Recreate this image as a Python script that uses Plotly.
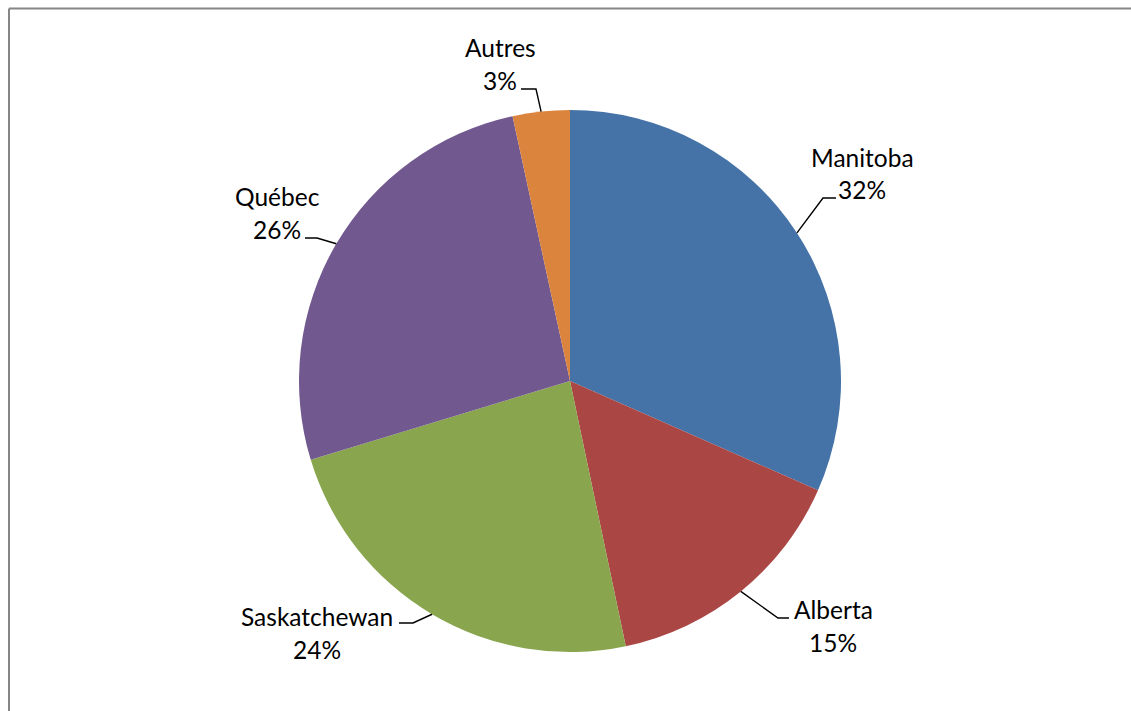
import math
import plotly.graph_objects as go

# ---- data ----
provinces = ["Manitoba", "Alberta", "Saskatchewan", "Québec", "Autres"]
shares = [31.6, 15.1, 23.6, 26.3, 3.4]
colors = ["#4572A7", "#AA4643", "#89A54E", "#71588F", "#DB843D"]

# ---- layout constants (pixels) ----
W, H = 1131, 711
CX, CY, R = 570, 381, 271
FONT = "Lato"
FS = 24.5

# label layout: center x, first/second line y, leader end (x,y), elbow x
label_layout = {
    "Manitoba":     dict(cx=862, y1=157, y2=190, ex=836, ey=198, bx=823),
    "Alberta":      dict(cx=833, y1=609, y2=642, ex=789, ey=618, bx=778),
    "Saskatchewan": dict(cx=317, y1=616, y2=649, ex=399, ey=623, bx=413),
    "Québec":       dict(cx=277, y1=196, y2=229, ex=305, ey=238, bx=317),
    "Autres":       dict(cx=500, y1=47,  y2=81,  ex=521, ey=89,  bx=536),
}

def pxx(x):
    return x / W

def pyy(y):
    return 1 - y / H

fig = go.Figure(go.Pie(
    labels=provinces,
    values=shares,
    sort=False,
    direction="clockwise",
    rotation=0,
    marker=dict(colors=colors, line=dict(width=0)),
    textinfo="none",
    hoverinfo="label+percent",
    showlegend=False,
    domain=dict(x=[pxx(CX - R), pxx(CX + R)], y=[pyy(CY + R), pyy(CY - R)]),
))

total = sum(shares)
annotations = []
shapes = []
cum = 0.0
for name, v in zip(provinces, shares):
    mid = (cum + v / 2) / total * 2 * math.pi
    cum += v
    edge_x = CX + R * math.sin(mid)
    edge_y = CY - R * math.cos(mid)
    L = label_layout[name]
    pct = f"{round(v / total * 100)}%"
    annotations.append(dict(x=pxx(L["cx"]), y=pyy(L["y1"]), xref="paper", yref="paper",
                            text=name, showarrow=False, xanchor="center", yanchor="middle",
                            font=dict(family=FONT, size=FS, color="black")))
    annotations.append(dict(x=pxx(L["cx"]), y=pyy(L["y2"]), xref="paper", yref="paper",
                            text=pct, showarrow=False, xanchor="center", yanchor="middle",
                            font=dict(family=FONT, size=FS, color="black")))
    path = (f"M {pxx(L['ex'])},{pyy(L['ey'])} L {pxx(L['bx'])},{pyy(L['ey'])} "
            f"L {pxx(edge_x)},{pyy(edge_y)}")
    shapes.append(dict(type="path", path=path, xref="paper", yref="paper",
                       line=dict(color="black", width=1.4)))

# chart frame (left and top edges visible)
frame = dict(color="#868686", width=2)
shapes.append(dict(type="line", xref="paper", yref="paper",
                   x0=pxx(9), y0=pyy(8.5), x1=1.0, y1=pyy(8.5), line=frame))
shapes.append(dict(type="line", xref="paper", yref="paper",
                   x0=pxx(9), y0=pyy(8.5), x1=pxx(9), y1=0.0, line=frame))

fig.update_layout(
    width=W, height=H,
    margin=dict(l=0, r=0, t=0, b=0),
    paper_bgcolor="white",
    plot_bgcolor="white",
    annotations=annotations,
    shapes=shapes,
    font=dict(family=FONT, size=FS, color="black"),
)

fig.write_html(
    "out.html",
    config={"displayModeBar": False},
    post_script="document.body.style.margin='0';document.body.style.overflow='hidden';",
)
